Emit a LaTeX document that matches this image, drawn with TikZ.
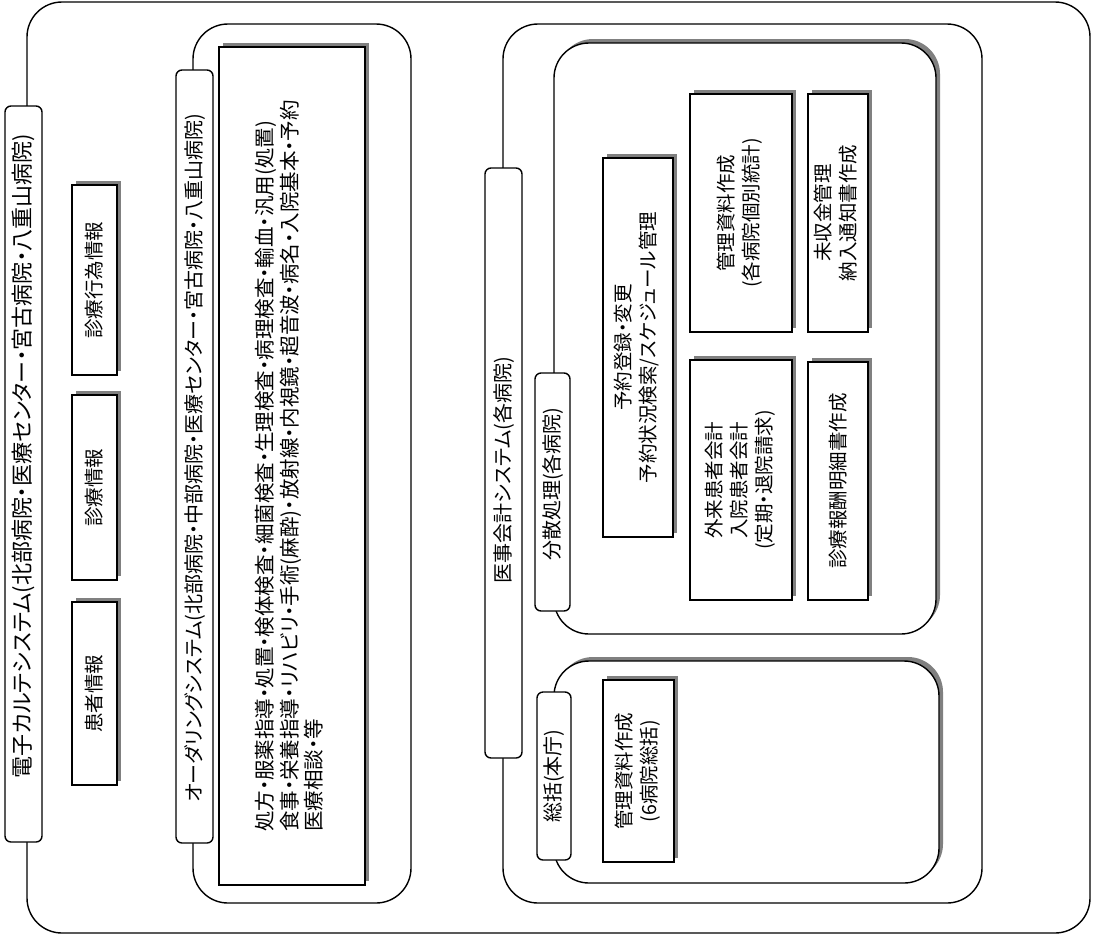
\documentclass[tikz,border=0pt]{standalone}
\usepackage{fontspec}
\usepackage{graphicx}
\setmainfont{Noto Sans CJK JP}[RawFeature=+palt]
\usetikzlibrary{shadows}
\begin{document}
\begin{tikzpicture}[x=1pt,y=-1pt,line width=1.4pt,
  grp/.style={draw, inner sep=0pt, rounded corners=35pt},
  sgrp/.style={draw, fill=white, inner sep=0pt, rounded corners=35pt,
     drop shadow={shadow xshift=4pt, shadow yshift=4pt, fill=black!50, opacity=1}},
  tab/.style={draw, fill=white, inner sep=0pt, rounded corners=6pt},
  sbox/.style={draw, fill=white, inner sep=0pt,
     drop shadow={shadow xshift=4pt, shadow yshift=4pt, fill=black!50, opacity=1}},
  htxt/.style={rotate=90, inner sep=0pt, font=\fontsize{20}{24}\selectfont},
  btxt/.style={font=\fontsize{19.5}{25}\selectfont},
]
\useasboundingbox (0,0) rectangle (1094,935);
% outer
\node[grp, minimum width=1063pt, minimum height=931pt] (outer) at (558.5,467.5) {};
\node[tab, minimum width=37pt, minimum height=736pt] (outerTab) at (23.5,474) {};
\node[htxt, font=\fontsize{22}{26}\selectfont] (outerT) at (23.5,456) {電子カルテシステム(北部病院・医療センター・宮古病院・八重山病院)};
\node[sbox, btxt, minimum width=45pt, minimum height=190pt] (kouiBox) at (94.5,280) {\rotatebox{90}{診療行為情報}};
\node[sbox, btxt, minimum width=45pt, minimum height=185pt] (shinBox) at (94.5,487.5) {\rotatebox{90}{診療情報}};
\node[sbox, btxt, minimum width=45pt, minimum height=183pt] (kanjaBox) at (94.5,693.5) {\rotatebox{90}{患者情報}};
% ordering
\node[grp, minimum width=218pt, minimum height=879pt] (ord) at (302,463.5) {};
\node[tab, minimum width=37pt, minimum height=773pt] (ordTab) at (194.5,456.5) {};
\node[htxt] (ordT) at (194.5,458) {オーダリングシステム(北部病院・中部病院・医療センター・宮古病院・八重山病院)};
\node[sbox, font=\fontsize{20.5}{23.5}\selectfont, minimum width=146pt, minimum height=838pt] (ordBox) at (292,466) {\rotatebox{90}{\begin{tabular}{@{}l@{}}処方・服薬指導・処置・検体検査・細菌検査・生理検査・病理検査・輸血・汎用(処置)\\食事・栄養指導・リハビリ・手術(麻酔)・放射線・内視鏡・超音波・病名・入院基本・予約\\医療相談・等\end{tabular}}};
% iji kaikei
\node[grp, minimum width=479pt, minimum height=879pt] (iji) at (742.5,463.5) {};
\node[tab, minimum width=37pt, minimum height=590pt] (ijiTab) at (503.5,463) {};
\node[htxt] (ijiT) at (503.5,470) {医事会計システム(各病院)};
% bunsan
\node[sgrp, minimum width=382pt, minimum height=591pt] (bun) at (745,338.5) {};
\node[tab, minimum width=35pt, minimum height=238pt] (bunTab) at (552.5,492) {};
\node[htxt] (bunT) at (552.5,484) {分散処理(各病院)};
\node[sbox, btxt, minimum width=70pt, minimum height=379pt] (yoyaku) at (638,347.5) {\rotatebox{90}{\begin{tabular}{@{}c@{}}予約登録・変更\\予約状況検索/スケジュール管理\end{tabular}}};
\node[sbox, btxt, minimum width=102pt, minimum height=238pt] (kanri1) at (741,213) {\rotatebox{90}{\begin{tabular}{@{}c@{}}管理資料作成\\(各病院個別統計)\end{tabular}}};
\node[sbox, btxt, minimum width=102pt, minimum height=240pt] (kaikei) at (741,480) {\rotatebox{90}{\begin{tabular}{@{}c@{}}外来患者会計\\入院患者会計\\(定期・退院請求)\end{tabular}}};
\node[sbox, btxt, minimum width=60pt, minimum height=238pt] (mishu) at (838,213) {\rotatebox{90}{\begin{tabular}{@{}c@{}}未収金管理\\納入通知書作成\end{tabular}}};
\node[sbox, btxt, minimum width=60pt, minimum height=238pt] (receipt) at (838,481) {\rotatebox{90}{診療報酬明細書作成}};
% soukatsu
\node[sgrp, minimum width=385pt, minimum height=222pt] (sou) at (746.5,772) {};
\node[tab, minimum width=34pt, minimum height=168pt] (souTab) at (554,776) {};
\node[htxt] (souT) at (554,776) {総括(本庁)};
\node[sbox, btxt, minimum width=71pt, minimum height=182pt] (kanri2) at (638.5,771) {\rotatebox{90}{\begin{tabular}{@{}c@{}}管理資料作成\\(6病院総括)\end{tabular}}};
\end{tikzpicture}
\end{document}
